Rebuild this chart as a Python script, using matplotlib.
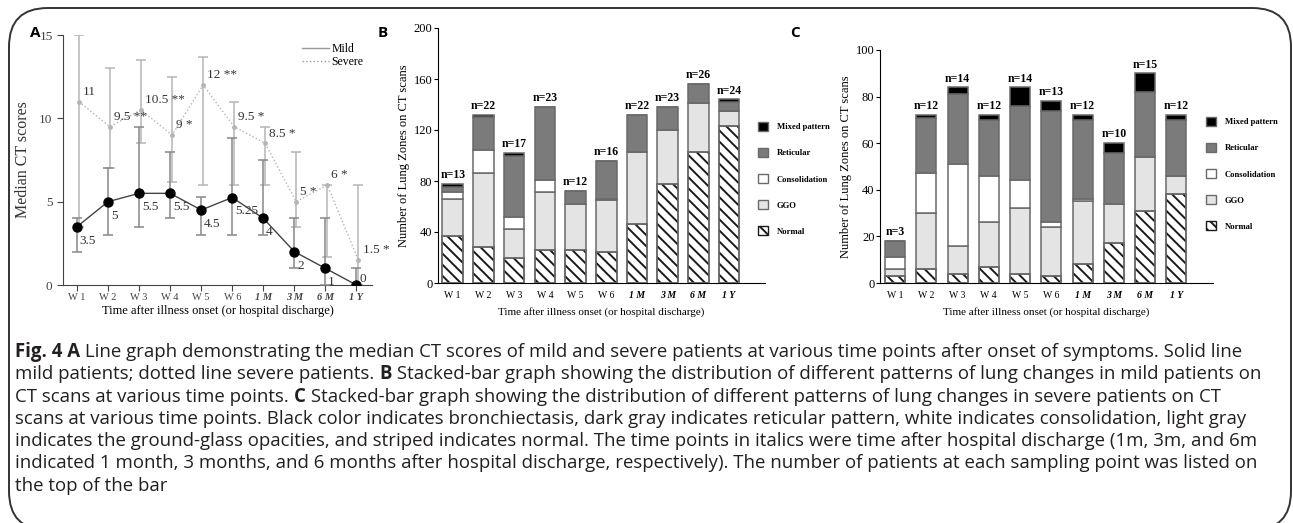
import matplotlib
matplotlib.use('Agg')
import matplotlib.pyplot as plt
from matplotlib.patches import Patch, FancyBboxPatch
from matplotlib.lines import Line2D

plt.rcParams['font.family'] = ['Liberation Serif', 'DejaVu Serif']
plt.rcParams['hatch.linewidth'] = 1.4

W, H = 1293, 523

# ---- data ----
timepoints = ['W 1', 'W 2', 'W 3', 'W 4', 'W 5', 'W 6', '1 M', '3 M', '6 M', '1 Y']
after_discharge = [False, False, False, False, False, False, True, True, True, True]

# A: median CT scores (with error bar ends)
mild_median = [3.5, 5, 5.5, 5.5, 4.5, 5.25, 4, 2, 1, 0]
mild_low = [2, 3, 3.5, 4, 3, 3, 3, 1, 0, 0]
mild_high = [4, 7, 9.5, 8, 5.3, 8.8, 7.5, 4, 4, 1]
severe_median = [11, 9.5, 10.5, 9, 12, 9.5, 8.5, 5, 6, 1.5]
severe_low = [3.5, 7, 8.5, 6.2, 6, 6, 6, 3.5, 1.7, 0]
severe_high = [15, 13, 13.5, 12.5, 13.7, 11, 9.5, 8, 6, 6]
severe_sig = ['', '**', '**', '*', '**', '*', '*', '*', '*', '*']

# B: mild patients, lung zones per pattern
mild_n = [13, 22, 17, 23, 12, 16, 22, 23, 26, 24]
mild_normal = [37, 28, 20, 26, 26, 24, 46, 78, 103, 123]
mild_ggo = [29, 58, 22, 45, 36, 41, 57, 42, 38, 12]
mild_consol = [5, 18, 10, 10, 0, 1, 0, 0, 0, 0]
mild_retic = [4, 26, 48, 57, 10, 30, 29, 18, 15, 7]
mild_mixed = [3, 2, 2, 0, 0, 0, 0, 0, 0, 2]

# C: severe patients, lung zones per pattern
severe_n = [3, 12, 14, 12, 14, 13, 12, 10, 15, 12]
severe_normal = [3, 6, 4, 7, 4, 3, 8, 17, 31, 38]
severe_ggo = [3, 24, 12, 19, 28, 21, 27, 17, 23, 8]
severe_consol = [5, 17, 35, 20, 12, 2, 1, 0, 0, 0]
severe_retic = [7, 24, 30, 24, 32, 48, 34, 22, 28, 24]
severe_mixed = [0, 1, 3, 2, 8, 4, 2, 4, 8, 2]

pattern_names = ['Normal', 'GGO', 'Consolidation', 'Reticular', 'Mixed pattern']
pattern_colors = ['white', '#e4e4e4', 'white', '#7b7b7b', 'black']


def px(x, y):
    return x / W, 1 - y / H


def axes_px(fig, left, top, right, bottom):
    return fig.add_axes([left / W, 1 - bottom / H, (right - left) / W, (bottom - top) / H])


def style_ticks(ax, size):
    ax.spines['top'].set_visible(False)
    ax.spines['right'].set_visible(False)
    ax.set_xticks(range(len(timepoints)))
    ax.set_xticklabels(timepoints, fontsize=size)
    for lab, italic in zip(ax.get_xticklabels(), after_discharge):
        if italic:
            lab.set_fontstyle('italic')
            lab.set_fontweight('bold')


fig = plt.figure(figsize=(W / 100, H / 100), dpi=100)

# ---- panel A ----
axA = axes_px(fig, 63, 35, 372, 285)
x = list(range(len(timepoints)))
xs = [i + 0.06 for i in x]
axA.errorbar(xs, severe_median,
             yerr=[[m - l for m, l in zip(severe_median, severe_low)],
                   [h - m for m, h in zip(severe_median, severe_high)]],
             color='#b5b5b5', ls=':', lw=1, marker='o', ms=2.5, capsize=3.5,
             elinewidth=1.1, capthick=1.1, zorder=2)
axA.errorbar(x, mild_median,
             yerr=[[m - l for m, l in zip(mild_median, mild_low)],
                   [h - m for m, h in zip(mild_median, mild_high)]],
             color='#444444', ls='-', lw=1, marker='o', ms=6.5, mfc='black', mec='black',
             capsize=3.5, elinewidth=1.1, capthick=1.1, ecolor='#888888', zorder=3)
for i in x:
    axA.annotate(f'{severe_median[i]:g} {severe_sig[i]}'.strip(), (xs[i], severe_median[i]),
                 xytext=(3, 7), textcoords='offset points', va='center', ha='left',
                 fontsize=9.5, color='#333333')
    dy = -10 if mild_median[i] > 0 else 4
    axA.annotate(f'{mild_median[i]:g}', (x[i], mild_median[i]),
                 xytext=(2, dy), textcoords='offset points', va='center', ha='left',
                 fontsize=9.5, color='#333333')
axA.set_xlim(-0.45, 9.5)
axA.set_ylim(0, 15)
axA.set_yticks([0, 5, 10, 15])
style_ticks(axA, 7.5)
axA.tick_params(axis='y', labelsize=9.5, colors='#444444', length=4)
axA.tick_params(axis='x', colors='#444444', length=4, pad=2)
for s in ['left', 'bottom']:
    axA.spines[s].set_color('#444444')
axA.set_ylabel('Median CT scores', fontsize=11.5, color='#333333', labelpad=6)
axA.set_xlabel('Time after illness onset (or hospital discharge)', fontsize=9, labelpad=2)
axA.legend(handles=[Line2D([], [], color='#999999', lw=1),
                    Line2D([], [], color='#999999', lw=1, ls=':')],
           labels=['Mild', 'Severe'], loc='upper right', bbox_to_anchor=(1.0, 1.0),
           frameon=False, fontsize=8.5, handlelength=2.3, handletextpad=0.2,
           labelspacing=0.05, borderaxespad=0.3)


def stacked(ax, layers, ns, pad, width):
    bottom = [0] * len(timepoints)
    for vals, name, col in zip(layers, pattern_names, pattern_colors):
        ax.bar(x, vals, width, bottom=bottom, color=col, edgecolor='#6a6a6a', lw=1.1, zorder=2)
        if name == 'Normal':
            ax.bar(x, vals, width, bottom=bottom, color='none', edgecolor='#1a1a1a',
                   lw=0, hatch='\\\\\\', zorder=3)
            ax.bar(x, vals, width, bottom=bottom, color='none', edgecolor='#6a6a6a',
                   lw=1.1, zorder=4)
        bottom = [b + v for b, v in zip(bottom, vals)]
    for i in x:
        ax.annotate(f'n={ns[i]}', (x[i], bottom[i]), xytext=(0, pad), textcoords='offset points',
                    ha='center', va='bottom', fontsize=8.5, fontweight='bold')
    ax.set_xlim(-0.48, 10.17)
    style_ticks(ax, 7)
    ax.tick_params(axis='x', length=0, pad=6)
    ax.tick_params(axis='y', labelsize=9, length=3, pad=1)
    ax.set_ylabel('Number of Lung Zones on CT scans', fontsize=9, labelpad=3)
    ax.set_xlabel('Time after illness onset (or hospital discharge)', fontsize=8, labelpad=5)


legend_handles = [Patch(facecolor='black', edgecolor='#6a6a6a'),
                  Patch(facecolor='#7b7b7b', edgecolor='#6a6a6a'),
                  Patch(facecolor='white', edgecolor='#6a6a6a'),
                  Patch(facecolor='#e4e4e4', edgecolor='#6a6a6a'),
                  Patch(facecolor='white', edgecolor='#1a1a1a', hatch='\\\\\\')]
legend_labels = ['Mixed pattern', 'Reticular', 'Consolidation', 'GGO', 'Normal']
legend_kw = dict(loc='upper left', frameon=False, handlelength=1.2, handleheight=1.2,
                 handletextpad=1.0, labelspacing=1.95, borderpad=0, borderaxespad=0,
                 prop={'size': 6.2, 'weight': 'bold'})

# ---- panel B ----
axB = axes_px(fig, 438, 28, 765, 283)
stacked(axB, [mild_normal, mild_ggo, mild_consol, mild_retic, mild_mixed], mild_n, 2, 0.67)
axB.set_ylim(0, 200)
axB.set_yticks([0, 40, 80, 120, 160, 200])
fig.legend(legend_handles, legend_labels, bbox_to_anchor=px(758, 122), **legend_kw)

# ---- panel C ----
axC = axes_px(fig, 880, 50, 1213, 283)
stacked(axC, [severe_normal, severe_ggo, severe_consol, severe_retic, severe_mixed], severe_n, 2, 0.64)
axC.set_ylim(0, 100)
axC.set_yticks([0, 20, 40, 60, 80, 100])
fig.legend(legend_handles, legend_labels, bbox_to_anchor=px(1206, 117), **legend_kw)

# panel letters
for letter, (lx, ly) in zip('ABC', [(30, 33), (378, 33), (790, 33)]):
    fig.text(*px(lx, ly), letter, family='Open Sans', fontweight='bold', fontsize=11,
             ha='left', va='center')

# ---- caption ----
caption = [
    [('Fig. 4 A', True), (' Line graph demonstrating the median CT scores of mild and severe patients at various time points after onset of symptoms. Solid line', False)],
    [('mild patients; dotted line severe patients. ', False), ('B', True), (' Stacked-bar graph showing the distribution of different patterns of lung changes in mild patients on', False)],
    [('CT scans at various time points. ', False), ('C', True), (' Stacked-bar graph showing the distribution of different patterns of lung changes in severe patients on CT', False)],
    [('scans at various time points. Black color indicates bronchiectasis, dark gray indicates reticular pattern, white indicates consolidation, light gray', False)],
    [('indicates the ground-glass opacities, and striped indicates normal. The time points in italics were time after hospital discharge (1m, 3m, and 6m', False)],
    [('indicated 1 month, 3 months, and 6 months after hospital discharge, respectively). The number of patients at each sampling point was listed on', False)],
    [('the top of the bar', False)],
]
renderer = fig.canvas.get_renderer()
for k, parts in enumerate(caption):
    xpix = 15
    ypix = 352 + k * 22.3
    for txt, bold in parts:
        t = fig.text(*px(xpix, ypix), txt, family='Open Sans', fontsize=13.4,
                     fontweight='bold' if bold else 'normal', color='#231f20',
                     ha='left', va='center')
        bb = t.get_window_extent(renderer=renderer)
        xpix += bb.width

# rounded frame
frame = FancyBboxPatch(px(9, 530), (1282) / W, (522) / H,
                       boxstyle='round,pad=0,rounding_size=0.03', transform=fig.transFigure,
                       fill=False, edgecolor='#333333', lw=1.4, mutation_aspect=W / H)
fig.patches.append(frame)

fig.savefig('out.png', dpi=100)
